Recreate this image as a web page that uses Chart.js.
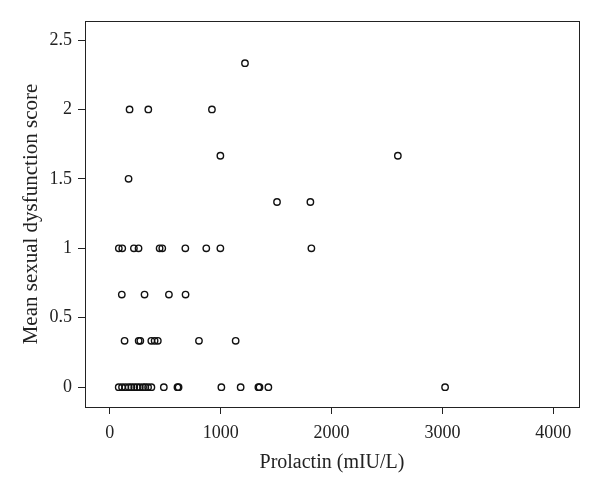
<!DOCTYPE html>
<html>
<head>
<meta charset="utf-8">
<script src="https://cdn.jsdelivr.net/npm/chart.js@4.4.0/dist/chart.umd.min.js"></script>
<style>
  html, body { margin: 0; padding: 0; background: #fff; }
  #wrap { width: 600px; height: 494px; }
</style>
</head>
<body>
<div id="wrap"><canvas id="scatterChart"></canvas></div>
<script>
// prolactin (mIU/L), grouped by score level
const score0 = [80, 110, 140, 170, 195, 220, 245, 270, 300, 320, 345, 375, 487, 610, 620, 1006, 1180, 1340, 1350, 1430, 3024];
const score033 = [133, 260, 275, 374, 404, 433, 804, 1135];
const score067 = [108, 313, 533, 683];
const score1 = [81, 112, 217, 259, 449, 473, 681, 870, 997, 1818];
const score133 = [1508, 1809];
const score15 = [169];
const score167 = [997, 2598];
const score2 = [178, 347, 921];
const score233 = [1219];

const levels = [0, 1 / 3, 2 / 3, 1, 4 / 3, 1.5, 5 / 3, 2, 7 / 3];
const groups = [score0, score033, score067, score1, score133, score15, score167, score2, score233];

const xTicks = [0, 1000, 2000, 3000, 4000];
const yTicks = [0, 0.5, 1, 1.5, 2, 2.5];

let points = [];
groups.forEach((g, i) => {
  g.forEach(x => points.push({ x: x, y: levels[i] }));
});

const FONT = 'Liberation Serif, Times New Roman, serif';

// draws the box round the plot area
const boxPlugin = {
  id: 'box',
  afterDraw(chart) {
    const a = chart.chartArea;
    const ctx = chart.ctx;
    ctx.save();
    ctx.strokeStyle = '#222';
    ctx.lineWidth = 1;
    ctx.strokeRect(a.left + 0.5, a.top + 0.5, a.right - a.left, a.bottom - a.top);
    ctx.restore();
  }
};

const ctx = document.getElementById('scatterChart').getContext('2d');
const chart = new Chart(ctx, {
  type: 'scatter',
  data: {
    datasets: [{
      data: points,
      pointStyle: 'circle',
      pointRadius: 3.2,
      pointHoverRadius: 3.2,
      borderColor: '#111',
      backgroundColor: 'rgba(0,0,0,0)',
      borderWidth: 1.4
    }]
  },
  options: {
    responsive: true,
    maintainAspectRatio: false,
    animation: false,
    layout: { padding: { top: 21, right: 21, left: 0, bottom: 0 } },
    plugins: {
      legend: { display: false },
      tooltip: { enabled: false }
    },
    scales: {
      x: {
        type: 'linear',
        min: -224,
        max: 4232,
        afterFit(scale) { scale.height = 87; },
        afterBuildTicks(scale) { scale.ticks = xTicks.map(v => ({ value: v })); },
        grid: { drawOnChartArea: false, drawTicks: true, tickLength: 7, color: '#222' },
        border: { display: false },
        ticks: {
          color: '#222',
          padding: 8,
          maxRotation: 0,
          font: { family: FONT, size: 18 },
          callback: v => String(v)
        },
        title: {
          display: true,
          text: 'Prolactin (mIU/L)',
          color: '#222',
          font: { family: FONT, size: 20 },
          padding: { top: 0, bottom: 19 }
        }
      },
      y: {
        type: 'linear',
        min: -0.143,
        max: 2.637,
        afterFit(scale) { scale.width = 85; },
        afterBuildTicks(scale) { scale.ticks = yTicks.map(v => ({ value: v })); },
        grid: { drawOnChartArea: false, drawTicks: true, tickLength: 7, color: '#222' },
        border: { display: false },
        ticks: {
          color: '#222',
          padding: 6,
          font: { family: FONT, size: 18 },
          callback: v => String(v)
        },
        title: {
          display: true,
          text: 'Mean sexual dysfunction score',
          color: '#222',
          font: { family: FONT, size: 21 },
          padding: { top: 19, bottom: 0 }
        }
      }
    }
  },
  plugins: [boxPlugin]
});
</script>
</body>
</html>
